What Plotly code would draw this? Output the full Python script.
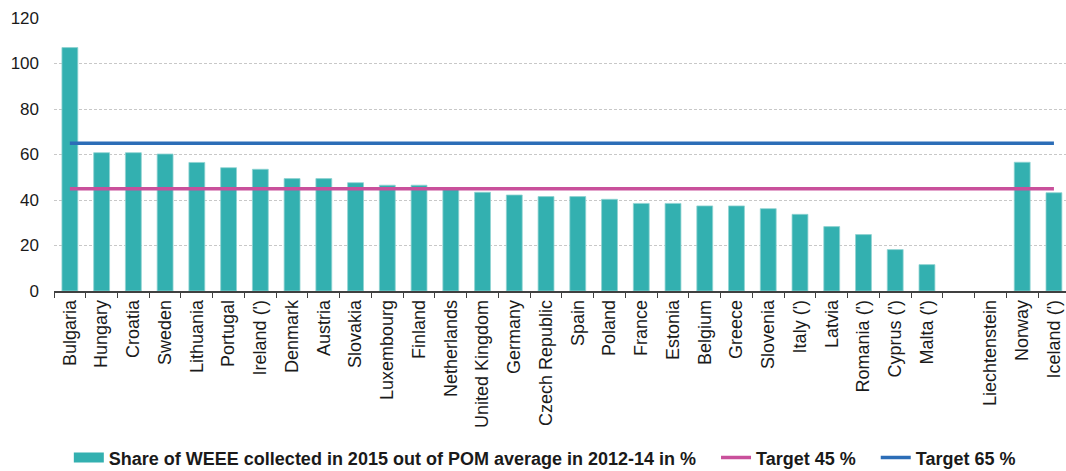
import plotly.graph_objects as go

countries = ["Bulgaria", "Hungary", "Croatia", "Sweden", "Lithuania", "Portugal",
             "Ireland (')", "Denmark", "Austria", "Slovakia", "Luxembourg", "Finland",
             "Netherlands", "United Kingdom", "Germany", "Czech Republic", "Spain",
             "Poland", "France", "Estonia", "Belgium", "Greece", "Slovenia", "Italy (')",
             "Latvia", "Romania (')", "Cyprus (')", "Malta (')", " ", "Liechtenstein",
             "Norway", "Iceland (')"]
share = [107.0, 60.8, 60.8, 60.2, 56.5, 54.2, 53.5, 49.4, 49.4, 47.6, 46.5, 46.5,
         45.0, 43.4, 42.2, 41.5, 41.5, 40.3, 38.5, 38.5, 37.4, 37.4, 36.2, 33.7,
         28.3, 24.8, 18.2, 11.6, None, None, 56.6, 43.2]
target_45 = [45, 45]
target_65 = [65, 65]
target_x = [countries[0], countries[-1]]

share_name = "Share of WEEE collected in 2015 out of POM average in 2012-14 in %"
teal = "#33b0b0"
pad = "\u00a0\u00a0\u00a0"

fig = go.Figure()
fig.add_trace(go.Bar(
    x=countries, y=share, name=share_name, showlegend=False,
    marker=dict(color=teal, line=dict(color="#8fd3d2", width=0.8)),
))
# legend-only entry so the key shows a wide rectangle as in the reference
fig.add_trace(go.Scatter(x=[None], y=[None], mode="lines", name=share_name + pad,
                         line=dict(color=teal, width=10)))
fig.add_trace(go.Scatter(x=target_x, y=target_45, mode="lines", name="Target 45 %" + pad,
                         line=dict(color="#c9509b", width=3.5)))
fig.add_trace(go.Scatter(x=target_x, y=target_65, mode="lines", name="Target 65 %",
                         line=dict(color="#2c6db7", width=3.5)))

fig.update_layout(
    width=1066, height=471,
    margin=dict(l=54, r=0, t=18, b=180, autoexpand=False),
    paper_bgcolor="white", plot_bgcolor="white",
    font=dict(family="Liberation Sans, Arial, sans-serif", size=16, color="#1a1a1a"),
    bargap=0.5,
    showlegend=True,
    legend=dict(orientation="h", x=0.485, xanchor="center",
                yref="container", y=0.028, yanchor="middle",
                font=dict(size=18, color="#1a1a1a", weight="bold"),
                traceorder="normal", itemwidth=30),
    xaxis=dict(
        type="category", range=[-0.5, 31.38],
        showline=True, linecolor="#404040", linewidth=1.5,
        ticks="outside", ticklen=5, tickcolor="#404040", tickwidth=1.2,
        tickson="boundaries", tickangle=-90,
        tickfont=dict(size=18, color="#1a1a1a"),
        showgrid=False,
    ),
    yaxis=dict(
        range=[0, 120], tickvals=[0, 20, 40, 60, 80, 100, 120],
        showgrid=True, gridcolor="#c8c8c8", gridwidth=1, griddash="3px,2px",
        zeroline=False, showline=False, ticks="", ticklabelstandoff=14,
        tickfont=dict(size=17, color="#1a1a1a"),
    ),
)

fig.write_html("out.html", config={"displayModeBar": False},
               post_script="document.body.style.margin='0';document.body.style.padding='0';")
